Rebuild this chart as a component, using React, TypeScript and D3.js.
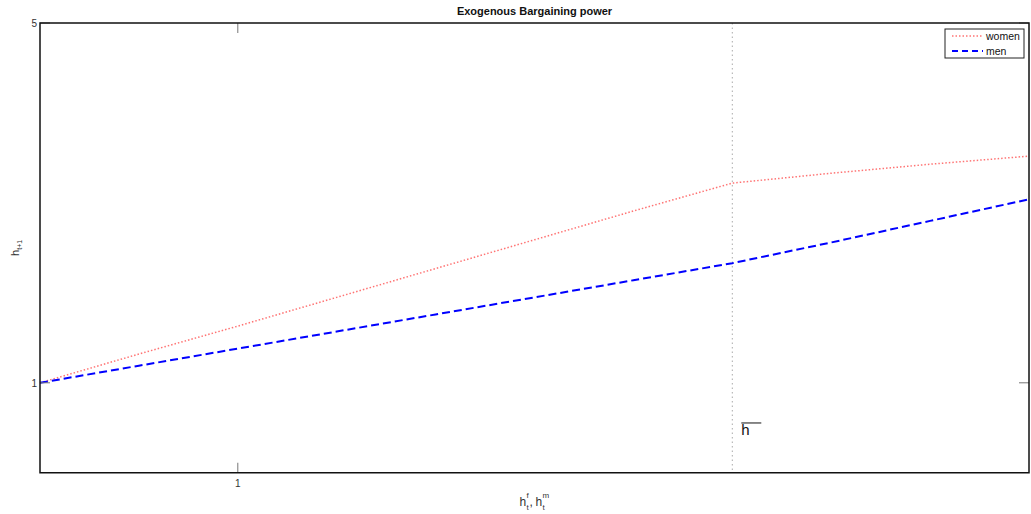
import React from 'react';
import * as d3 from 'd3';

// values
const xs = [0, 0.5, 1, 1.5, 2, 2.5, 3, 3.5, 4, 4.5, 5];
const women = [1, 1.32, 1.63, 1.95, 2.27, 2.59, 2.91, 3.22, 3.33, 3.43, 3.52];
const men = [1, 1.19, 1.38, 1.57, 1.76, 1.95, 2.14, 2.33, 2.56, 2.8, 3.04];
const xTicks = [1];
const yTicks = [1, 5];
const hBar = 3.5;

const W = 1031;
const H = 514;
const margin = { top: 23, right: 2, bottom: 42, left: 40 };

export default function App() {
	const x = d3
		.scaleLinear()
		.domain([0, 5])
		.range([margin.left, W - margin.right]);
	const y = d3
		.scaleLinear()
		.domain([0, 5])
		.range([H - margin.bottom + 0.75, margin.top]);

	const line = d3
		.line<number>()
		.x((d, i) => x(xs[i]))
		.y(d => y(d));

	const font = '"Liberation Sans", Arial, Helvetica, sans-serif';
	const x0 = x(0);
	const x1 = x(5);
	const yTop = y(5);
	const yBot = y(0);
	const cx = (x0 + x1) / 2;

	return (
		<svg
			width={W}
			height={H}
			style={{ position: 'absolute', left: 0, top: 0, background: '#fff' }}
			fontFamily={font}
		>
			<rect x={0} y={0} width={W} height={H} fill="#fff" />

			{/* threshold line */}
			<line
				x1={x(hBar)}
				x2={x(hBar)}
				y1={yTop}
				y2={yBot}
				stroke="#aaa"
				strokeWidth={1}
				strokeDasharray="1.5 3"
			/>

			{/* data */}
			<path
				d={line(women) || ''}
				fill="none"
				stroke="#ff0000"
				strokeOpacity={0.55}
				strokeWidth={1.5}
				strokeDasharray="1.5 2"
			/>
			<path
				d={line(men) || ''}
				fill="none"
				stroke="#0000ff"
				strokeWidth={2}
				strokeDasharray="8 4"
			/>

			{/* ticks */}
			{xTicks.map(t => (
				<g key={'x' + t}>
					<line x1={x(t)} x2={x(t)} y1={yBot} y2={yBot - 10} stroke="#777" />
					<line x1={x(t)} x2={x(t)} y1={yTop} y2={yTop + 10} stroke="#777" />
					<text x={x(t)} y={yBot + 14} fontSize={10} textAnchor="middle" fill="#333">
						{t}
					</text>
				</g>
			))}
			{yTicks.map(t => (
				<g key={'y' + t}>
					<line x1={x0} x2={x0 + 10} y1={y(t)} y2={y(t)} stroke="#777" />
					<line x1={x1} x2={x1 - 10} y1={y(t)} y2={y(t)} stroke="#777" />
					<text x={x0 - 3} y={y(t) + 4} fontSize={10} textAnchor="end" fill="#333">
						{t}
					</text>
				</g>
			))}

			{/* axes box */}
			<rect
				x={x0}
				y={yTop}
				width={x1 - x0}
				height={yBot - yTop}
				fill="none"
				stroke="#111"
				strokeWidth={1.5}
			/>

			{/* h bar label */}
			<text x={x(hBar) + 9} y={y(0.42)} fontSize={15} fill="#111">
				h
			</text>
			<line
				x1={x(hBar) + 9}
				x2={x(hBar) + 29}
				y1={y(0.42) - 12}
				y2={y(0.42) - 12}
				stroke="#111"
				strokeWidth={1}
			/>

			{/* title */}
			<text x={cx} y={15} fontSize={11} fontWeight="bold" textAnchor="middle" fill="#111">
				Exogenous Bargaining power
			</text>

			{/* x label: h_t^f, h_t^m */}
			<g fill="#333">
				<text x={cx - 15} y={506} fontSize={12}>h</text>
				<text x={cx - 8} y={498} fontSize={8}>f</text>
				<text x={cx - 8} y={510} fontSize={8}>t</text>
				<text x={cx - 5} y={506} fontSize={12}>,</text>
				<text x={cx + 1} y={506} fontSize={12}>h</text>
				<text x={cx + 8} y={498} fontSize={8}>m</text>
				<text x={cx + 8} y={510} fontSize={8}>t</text>
			</g>

			{/* y label */}
			<text transform={`translate(19,${(yTop + yBot) / 2}) rotate(-90)`} fontSize={11} textAnchor="middle" fill="#333">
				h<tspan fontSize={7} dy={3}>t+1</tspan>
			</text>

			{/* legend */}
			<g>
				<rect x={945} y={29} width={79} height={29} fill="#fff" stroke="#222" strokeWidth={1} />
				<line x1={952} x2={983} y1={36} y2={36} stroke="#ff0000" strokeOpacity={0.55} strokeWidth={1.5} strokeDasharray="1.5 2" />
				<text x={986} y={40} fontSize={10.5} fill="#111">women</text>
				<line x1={952} x2={983} y1={51} y2={51} stroke="#0000ff" strokeWidth={2} strokeDasharray="6 4" />
				<text x={986} y={55} fontSize={10.5} fill="#111">men</text>
			</g>
		</svg>
	);
}
